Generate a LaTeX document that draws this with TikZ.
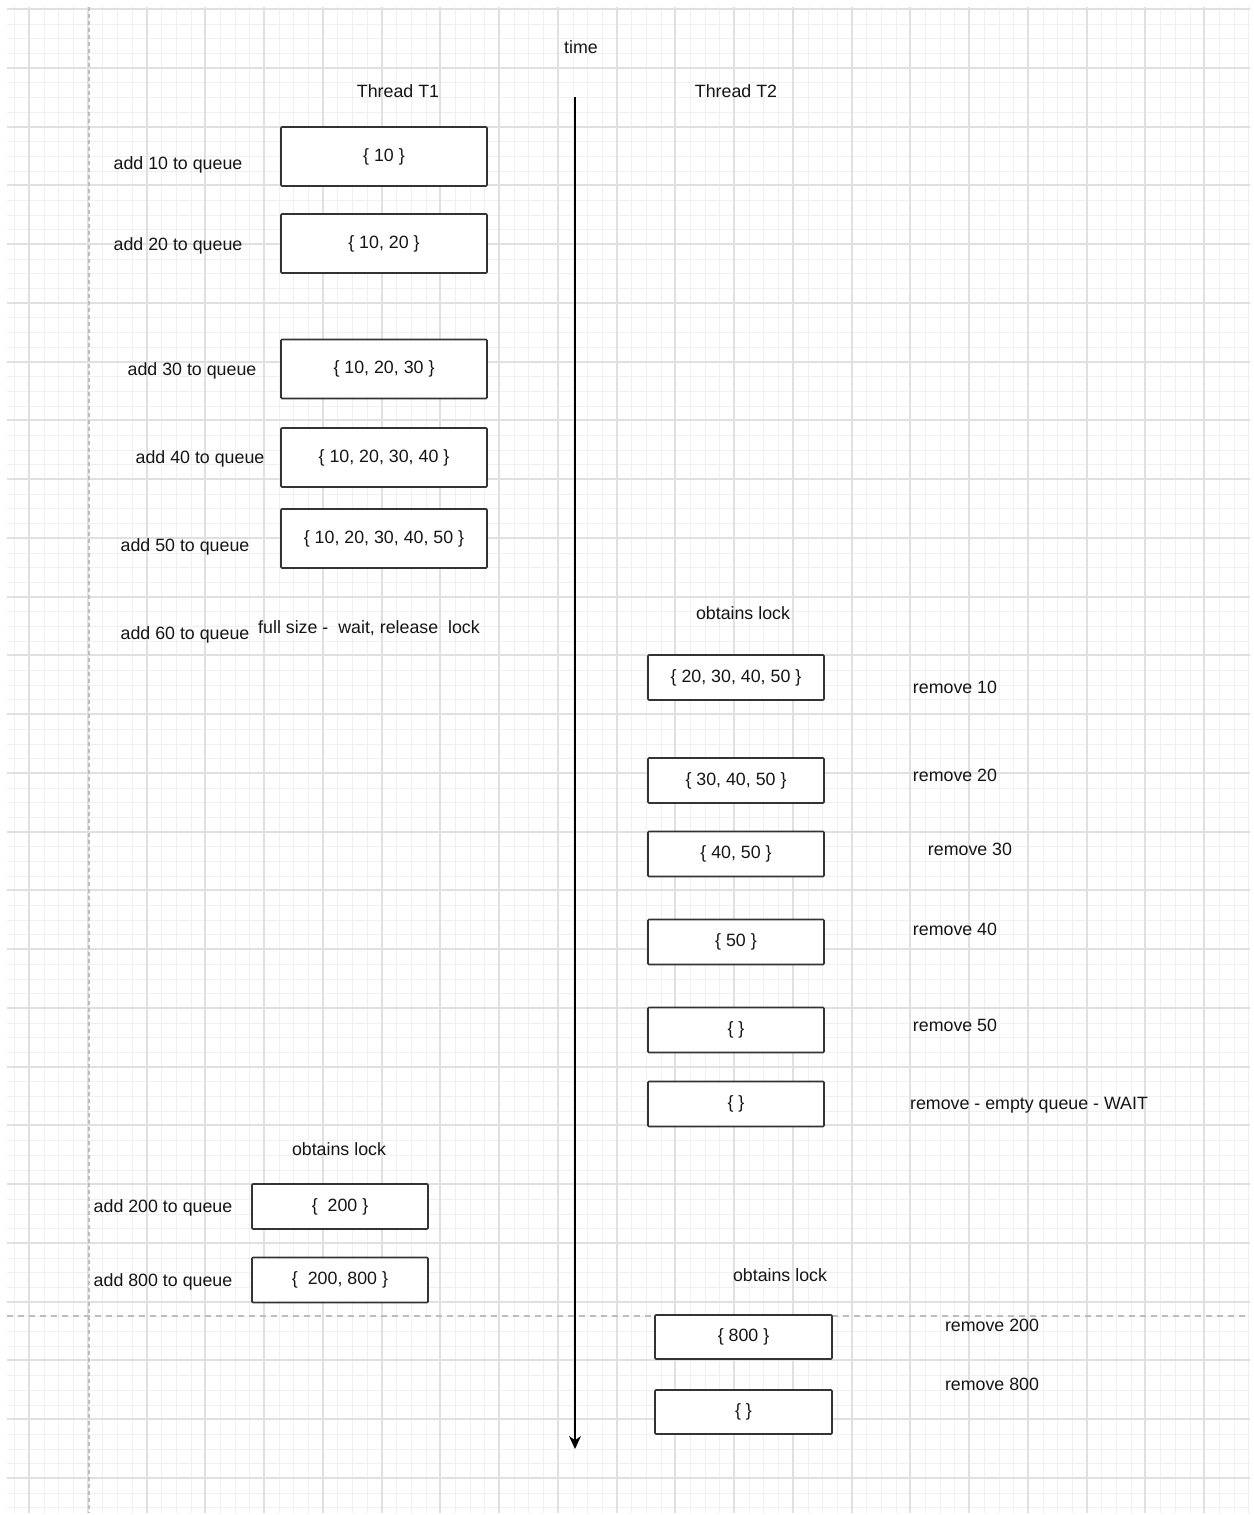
\documentclass[tikz,border=0pt]{standalone}
\usepackage{fontspec}
\setmainfont{Liberation Sans}
\usetikzlibrary{arrows.meta}
\definecolor{gminor}{HTML}{F0F0F0}
\definecolor{gmajor}{HTML}{E0E0E0}
\definecolor{gdash}{HTML}{BDBDBD}
\definecolor{boxline}{HTML}{333333}
\definecolor{txt}{HTML}{151515}
\begin{document}
\begin{tikzpicture}[x=1pt,y=-1pt,
  lbl/.style={font=\fontsize{17.8}{20}\selectfont, text=txt, inner sep=0pt, anchor=center, yshift=-2pt},
  qbox/.style={draw=boxline, line width=1.6pt, fill=white, inner sep=0pt, rounded corners=1pt,
    font=\fontsize{17.8}{20}\selectfont, text=txt, anchor=center},
  bigbox/.style={qbox, minimum width=206pt, minimum height=59pt},
  smallbox/.style={qbox, minimum width=176pt, minimum height=45pt}]
\useasboundingbox (0,0) rectangle (1253,1515);
\fill[white] (0,0) rectangle (1253,1515);
% grid
\foreach \i in {0,...,84} {
  \pgfmathsetmacro{\gx}{round(14.3+14.69*\i)+0.5}
  \ifdim\gx pt<1251pt \draw[gminor, line width=1pt] (\gx,7) -- (\gx,1513); \fi
}
\foreach \i in {0,...,102} {
  \pgfmathsetmacro{\gy}{round(9+14.69*\i)+0.5}
  \ifdim\gy pt<1513pt \draw[gminor, line width=1pt] (7,\gy) -- (1250,\gy); \fi
}
\foreach \i in {0,...,21} {
  \pgfmathsetmacro{\gx}{round(29+58.76*\i)}
  \ifdim\gx pt<1251pt \draw[gmajor, line width=2pt] (\gx,7) -- (\gx,1513); \fi
}
\foreach \i in {0,...,25} {
  \pgfmathsetmacro{\gy}{round(9+58.76*\i)}
  \ifdim\gy pt<1513pt \draw[gmajor, line width=2pt] (7,\gy) -- (1250,\gy); \fi
}
% dashed guide lines
\draw[gdash, line width=1.5pt, dash pattern=on 4pt off 3pt] (89,7) -- (89,1513);
\draw[gdash, line width=1.5pt, dash pattern=on 6pt off 5pt] (7,1316) -- (1250,1316);

% time axis
\node[lbl] (time) at (581,45) {time};
\coordinate (tstart) at (575,97);
\coordinate (tend) at (575,1449);
\draw[line width=1.6pt, black, -{Stealth[length=13pt,width=12pt]}] (tstart) -- (tend);

\node[lbl] (t1) at (398,89) {Thread T1};
\node[lbl] (t2) at (736,89) {Thread T2};

% Thread T1
\node[bigbox] (b1) at (384,156.5) {\{ 10 \}};
\node[bigbox] (b2) at (384,243.5) {\{ 10, 20 \}};
\node[bigbox] (b3) at (384,369) {\{ 10, 20, 30 \}};
\node[bigbox] (b4) at (384,457.5) {\{ 10, 20, 30, 40 \}};
\node[bigbox] (b5) at (384,538.5) {\{ 10, 20, 30, 40, 50 \}};

\node[lbl] (a10) at (178,163) {add 10 to queue};
\node[lbl] (a20) at (178,244) {add 20 to queue};
\node[lbl] (a30) at (192,369) {add 30 to queue};
\node[lbl] (a40) at (200,457) {add 40 to queue};
\node[lbl] (a50) at (185,545) {add 50 to queue};
\node[lbl] (a60) at (185,633) {add 60 to queue};
\node[lbl] (full) at (369,626) {full size -\ \ wait, release\ \ lock};

\node[lbl] (lock1) at (339,1147) {obtains lock};
\node[smallbox] (b200) at (340,1206.5) {\{\ \ 200 \}};
\node[smallbox] (b800) at (340,1280) {\{\ \ 200, 800 \}};
\node[lbl] (a200) at (163,1206) {add 200 to queue};
\node[lbl] (a800) at (163,1280) {add 800 to queue};

% Thread T2
\node[lbl] (lock2) at (743,611) {obtains lock};
\node[smallbox] (r1) at (736,677.5) {\{ 20, 30, 40, 50 \}};
\node[smallbox] (r2) at (736,780.5) {\{ 30, 40, 50 \}};
\node[smallbox] (r3) at (736,854) {\{ 40, 50 \}};
\node[smallbox] (r4) at (736,942) {\{ 50 \}};
\node[smallbox] (r5) at (736,1030) {\{ \}};
\node[smallbox] (r6) at (736,1104) {\{ \}};

\node[lbl] (rm10) at (955,685) {remove 10};
\node[lbl] (rm20) at (955,773) {remove 20};
\node[lbl] (rm30) at (970,847) {remove 30};
\node[lbl] (rm40) at (955,927) {remove 40};
\node[lbl] (rm50) at (955,1023) {remove 50};
\node[lbl] (rmw) at (1029,1103) {remove - empty queue - WAIT};

\node[lbl] (lock3) at (780,1273) {obtains lock};
\node[smallbox, minimum width=177pt, minimum height=44pt] (r7) at (743.5,1337) {\{ 800 \}};
\node[smallbox, minimum width=177pt, minimum height=44pt] (r8) at (743.5,1412) {\{ \}};
\node[lbl] (rm200) at (992,1323) {remove 200};
\node[lbl] (rm800) at (992,1382) {remove 800};
\end{tikzpicture}
\end{document}
